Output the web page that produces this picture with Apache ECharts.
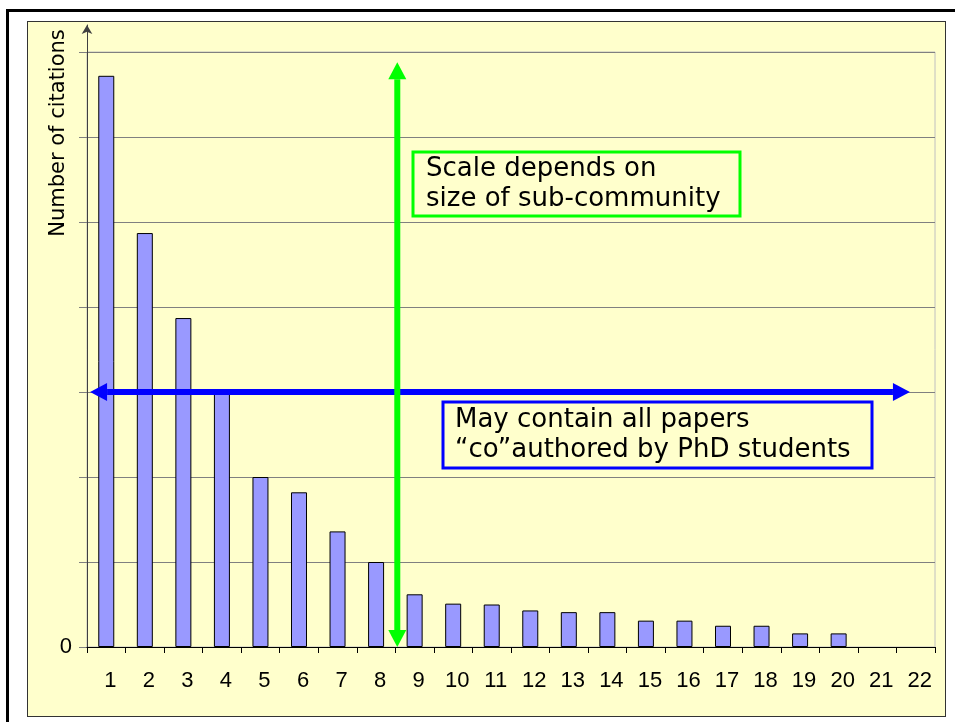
<!DOCTYPE html>
<html>
<head>
<meta charset="utf-8">
<script src="https://cdn.jsdelivr.net/npm/echarts@6/dist/echarts.min.js"></script>
<style>
  html, body { margin: 0; padding: 0; background: #fff; }
  #wrap { position: relative; width: 955px; height: 722px; overflow: hidden; }
  #frame { position: absolute; left: 6px; top: 9px; width: 1000px; height: 800px;
           border-left: 3px solid #000; border-top: 3px solid #000; }
  #panel { position: absolute; left: 27px; top: 21px; width: 919px; height: 696px;
           box-sizing: border-box; background: #ffffcc; border: 1px solid #333; }
  #chart { position: absolute; left: 0; top: 0; width: 955px; height: 722px; }
</style>
</head>
<body>
<div id="wrap">
  <div id="frame"></div>
  <div id="panel"></div>
  <div id="chart"></div>
</div>
<script>
// rank of the paper (x) and citations in grid units (y)
const ranks = ['1', '2', '3', '4', '5', '6', '7', '8', '9', '10', '11',
               '12', '13', '14', '15', '16', '17', '18', '19', '20', '21', '22']
const citations = [6.72, 4.87, 3.87, 2.99, 2.0, 1.82, 1.36, 1.0, 0.62, 0.51, 0.5,
                   0.43, 0.41, 0.41, 0.31, 0.31, 0.25, 0.25, 0.16, 0.16, 0, 0]
const yMax = 7
const yStep = 1

// annotations (category index / value units)
const greenArrow = { at: 7.55, from: 0, to: 6.88 }
const blueArrow = { at: 3, from: -0.42, to: 20.85 }
const greenNote = ['Scale depends on', 'size of sub-community']
const blueNote = ['May contain all papers', '\u201cco\u201dauthored by PhD students']

const GREEN = '#00ff00'
const BLUE = '#0000ff'
const GRID = { left: 87, right: 20, top: 52, bottom: 75 }
const LABEL_FONT = 'Liberation Sans, Arial, sans-serif'

const chart = echarts.init(document.getElementById('chart'), null, { renderer: 'canvas' })

// empty ranks get no outline
const barData = citations.map(v => (v > 0 ? v : { value: v, itemStyle: { borderWidth: 0 } }))

chart.setOption({
  backgroundColor: 'transparent',
  animation: false,
  grid: [
    Object.assign({ show: true, borderColor: '#c0c0c0', borderWidth: 1, backgroundColor: 'transparent' }, GRID),
    { left: GRID.left, right: GRID.right, top: 25, bottom: GRID.bottom }
  ],
  xAxis: [{
    type: 'category',
    gridIndex: 0,
    data: ranks,
    z: 5,
    axisLine: { lineStyle: { color: '#000', width: 1 } },
    axisTick: { show: true, length: 6, lineStyle: { color: '#000' } },
    axisLabel: {
      color: '#000', fontSize: 22, fontFamily: LABEL_FONT,
      margin: 23, interval: 0, padding: [0, 0, 0, 8]
    }
  }, {
    type: 'value', gridIndex: 1, show: false
  }],
  yAxis: [{
    type: 'value',
    gridIndex: 0,
    min: 0,
    max: yMax,
    interval: yStep,
    axisLine: { show: false },
    axisTick: { show: true, length: 8, lineStyle: { color: '#808080' } },
    axisLabel: {
      color: '#000', fontSize: 22, fontFamily: LABEL_FONT, margin: 15,
      formatter: v => (v === 0 ? '0' : '')
    },
    splitLine: { show: true, lineStyle: { color: '#808080', width: 1 } }
  }, {
    type: 'value',
    gridIndex: 1,
    min: 0,
    max: 1,
    axisLine: {
      show: true,
      symbol: ['none', 'arrow'],
      symbolSize: [8, 9],
      lineStyle: { color: '#404040', width: 1 }
    },
    axisTick: { show: false },
    axisLabel: { show: false },
    splitLine: { show: false }
  }],
  series: [{
    type: 'bar',
    xAxisIndex: 0,
    yAxisIndex: 0,
    data: barData,
    barWidth: 16,
    itemStyle: { color: '#9999ff', borderColor: '#000', borderWidth: 1 }
  }]
})

// pixel helpers through the chart's own scales
function catX (i) {
  const a = chart.convertToPixel({ gridIndex: 0 }, [0, 0])[0]
  const b = chart.convertToPixel({ gridIndex: 0 }, [1, 0])[0]
  return a + i * (b - a)
}
function valY (v) {
  return chart.convertToPixel({ gridIndex: 0 }, [0, v])[1]
}

const head = 17
const half = 9

const gx = catX(greenArrow.at)
const gTop = valY(greenArrow.to)
const gBot = valY(greenArrow.from)

const by = valY(blueArrow.at)
const bL = catX(blueArrow.from)
const bR = catX(blueArrow.to)

function note (lines, x, y, w, h, color, tx, ty) {
  return [{
    type: 'rect',
    shape: { x: x, y: y, width: w, height: h },
    style: { fill: 'transparent', stroke: color, lineWidth: 3 },
    z: 20
  }, {
    type: 'text',
    x: tx,
    y: ty,
    style: {
      text: lines.join('\n'),
      fill: '#000',
      font: '26px "DejaVu Sans", Verdana, sans-serif',
      lineHeight: 30,
      align: 'left',
      verticalAlign: 'top'
    },
    z: 21
  }]
}

chart.setOption({
  graphic: [
    // y axis title
    {
      type: 'text',
      x: 59,
      y: 133,
      rotation: Math.PI / 2,
      style: {
        text: 'Number of citations',
        fill: '#000',
        font: '21px "DejaVu Sans", Verdana, sans-serif',
        align: 'center',
        verticalAlign: 'middle'
      },
      z: 10
    },
    // blue horizontal double arrow
    {
      type: 'line',
      shape: { x1: bL + head, y1: by, x2: bR - head, y2: by },
      style: { stroke: BLUE, lineWidth: 6 },
      z: 30
    },
    {
      type: 'polygon',
      shape: { points: [[bL, by], [bL + head, by - half], [bL + head, by + half]] },
      style: { fill: BLUE },
      z: 30
    },
    {
      type: 'polygon',
      shape: { points: [[bR, by], [bR - head, by - half], [bR - head, by + half]] },
      style: { fill: BLUE },
      z: 30
    },
    // green vertical double arrow
    {
      type: 'line',
      shape: { x1: gx, y1: gTop + head, x2: gx, y2: gBot - head },
      style: { stroke: GREEN, lineWidth: 6 },
      z: 31
    },
    {
      type: 'polygon',
      shape: { points: [[gx, gTop], [gx - half, gTop + head], [gx + half, gTop + head]] },
      style: { fill: GREEN },
      z: 31
    },
    {
      type: 'polygon',
      shape: { points: [[gx, gBot], [gx - half, gBot - head], [gx + half, gBot - head]] },
      style: { fill: GREEN },
      z: 31
    },
    ...note(greenNote, 413, 152, 327, 64, GREEN, 426, 154),
    ...note(blueNote, 443, 402, 429, 66, BLUE, 455, 405)
  ]
})
</script>
</body>
</html>
